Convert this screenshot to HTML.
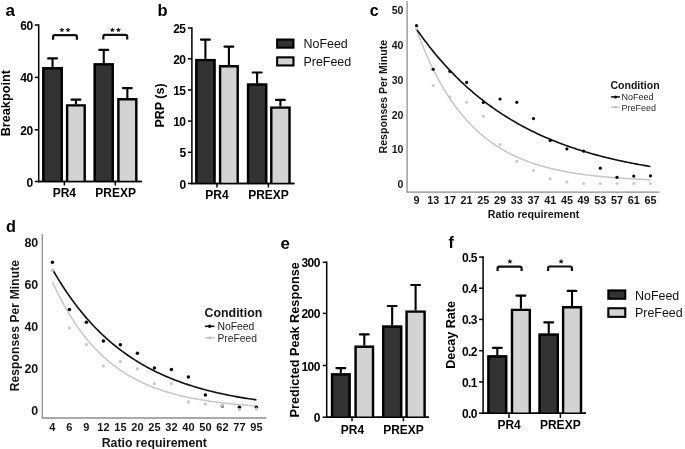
<!DOCTYPE html>
<html><head><meta charset="utf-8"><style>
html,body{margin:0;padding:0;background:#fff;}
svg{display:block;font-family:"Liberation Sans", sans-serif;will-change:transform;filter:blur(0.3px);}
</style></head><body>
<svg width="685" height="449" viewBox="0 0 685 449">
<rect width="685" height="449" fill="#fff"/>
<text x="5.5" y="16" font-size="17" font-weight="bold" text-anchor="start" fill="#000" >a</text>
<line x1="38.7" y1="24.25" x2="38.7" y2="182.25" stroke="#000" stroke-width="1.5" stroke-linecap="butt"/>
<line x1="34.7" y1="25" x2="38.7" y2="25" stroke="#000" stroke-width="1.5" stroke-linecap="butt"/>
<text x="32.6" y="30.04" font-size="12" font-weight="bold" text-anchor="end" fill="#000" letter-spacing="-0.55" >60</text>
<line x1="34.7" y1="77.4" x2="38.7" y2="77.4" stroke="#000" stroke-width="1.5" stroke-linecap="butt"/>
<text x="32.6" y="82.44000000000001" font-size="12" font-weight="bold" text-anchor="end" fill="#000" letter-spacing="-0.55" >40</text>
<line x1="34.7" y1="129.8" x2="38.7" y2="129.8" stroke="#000" stroke-width="1.5" stroke-linecap="butt"/>
<text x="32.6" y="134.84" font-size="12" font-weight="bold" text-anchor="end" fill="#000" letter-spacing="-0.55" >20</text>
<line x1="34.7" y1="181.5" x2="38.7" y2="181.5" stroke="#000" stroke-width="1.5" stroke-linecap="butt"/>
<text x="32.6" y="186.54" font-size="12" font-weight="bold" text-anchor="end" fill="#000" letter-spacing="-0.55" >0</text>
<line x1="38" y1="181.4" x2="141.8" y2="181.4" stroke="#000" stroke-width="1.5" stroke-linecap="butt"/>
<line x1="64.4" y1="181.4" x2="64.4" y2="185.5" stroke="#000" stroke-width="1.5" stroke-linecap="butt"/>
<line x1="115.3" y1="181.4" x2="115.3" y2="185.5" stroke="#000" stroke-width="1.5" stroke-linecap="butt"/>
<rect x="42.2" y="67" width="20.70" height="114.40" fill="#333333"/>
<path d="M43.40,181.4 V68.20 H61.70 V181.4" fill="none" stroke="#000" stroke-width="2.4" stroke-linejoin="miter"/>
<line x1="52.55" y1="67" x2="52.55" y2="58.4" stroke="#000" stroke-width="2.1" stroke-linecap="butt"/>
<line x1="48.15" y1="58.4" x2="56.949999999999996" y2="58.4" stroke="#000" stroke-width="2.2" stroke-linecap="round"/>
<rect x="65.9" y="104.2" width="20.00" height="77.20" fill="#d3d3d3"/>
<path d="M67.10,181.4 V105.40 H84.70 V181.4" fill="none" stroke="#000" stroke-width="2.4" stroke-linejoin="miter"/>
<line x1="75.9" y1="104.2" x2="75.9" y2="99.7" stroke="#000" stroke-width="2.1" stroke-linecap="butt"/>
<line x1="71.5" y1="99.7" x2="80.30000000000001" y2="99.7" stroke="#000" stroke-width="2.2" stroke-linecap="round"/>
<rect x="93.6" y="63.2" width="20.30" height="118.20" fill="#333333"/>
<path d="M94.80,181.4 V64.40 H112.70 V181.4" fill="none" stroke="#000" stroke-width="2.4" stroke-linejoin="miter"/>
<line x1="103.75" y1="63.2" x2="103.75" y2="49.9" stroke="#000" stroke-width="2.1" stroke-linecap="butt"/>
<line x1="99.35" y1="49.9" x2="108.15" y2="49.9" stroke="#000" stroke-width="2.2" stroke-linecap="round"/>
<rect x="117.2" y="98" width="20.30" height="83.40" fill="#d3d3d3"/>
<path d="M118.40,181.4 V99.20 H136.30 V181.4" fill="none" stroke="#000" stroke-width="2.4" stroke-linejoin="miter"/>
<line x1="127.35" y1="98" x2="127.35" y2="88.1" stroke="#000" stroke-width="2.1" stroke-linecap="butt"/>
<line x1="122.94999999999999" y1="88.1" x2="131.75" y2="88.1" stroke="#000" stroke-width="2.2" stroke-linecap="round"/>
<line x1="38" y1="181.4" x2="141.8" y2="181.4" stroke="#000" stroke-width="1.5" stroke-linecap="butt"/>
<path d="M53.1,39.8 V36.7 Q53.1,35.1 54.7,35.1 H75.30000000000001 Q76.9,35.1 76.9,36.7 V39.8" fill="none" stroke="#111" stroke-width="2.2"/>
<polygon points="61.90,27.15 62.63,28.89 64.52,29.05 63.09,30.29 63.52,32.12 61.90,31.15 60.28,32.12 60.71,30.29 59.28,29.05 61.17,28.89" fill="#1a1a1a"/>
<polygon points="68.00,27.15 68.73,28.89 70.62,29.05 69.19,30.29 69.62,32.12 68.00,31.15 66.38,32.12 66.81,30.29 65.38,29.05 67.27,28.89" fill="#1a1a1a"/>
<path d="M103.3,39.5 V36.5 Q103.3,34.9 104.89999999999999,34.9 H125.60000000000002 Q127.20000000000002,34.9 127.20000000000002,36.5 V39.5" fill="none" stroke="#111" stroke-width="2.2"/>
<polygon points="112.40,27.15 113.13,28.89 115.02,29.05 113.59,30.29 114.02,32.12 112.40,31.15 110.78,32.12 111.21,30.29 109.78,29.05 111.67,28.89" fill="#1a1a1a"/>
<polygon points="118.40,27.15 119.13,28.89 121.02,29.05 119.59,30.29 120.02,32.12 118.40,31.15 116.78,32.12 117.21,30.29 115.78,29.05 117.67,28.89" fill="#1a1a1a"/>
<text x="64.3" y="197.2" font-size="12" font-weight="bold" text-anchor="middle" fill="#000" >PR4</text>
<text x="115.6" y="197.2" font-size="12" font-weight="bold" text-anchor="middle" fill="#000" >PREXP</text>
<text x="10.0" y="103.2" font-size="12.7" font-weight="bold" text-anchor="middle" fill="#000" transform="rotate(-90 10.0 103.2)" >Breakpoint</text>
<text x="157.6" y="16" font-size="16.5" font-weight="bold" text-anchor="start" fill="#000" >b</text>
<line x1="191.9" y1="27.25" x2="191.9" y2="184.25" stroke="#000" stroke-width="1.5" stroke-linecap="butt"/>
<line x1="187.9" y1="28" x2="191.9" y2="28" stroke="#000" stroke-width="1.5" stroke-linecap="butt"/>
<text x="185.5" y="33.04" font-size="12" font-weight="bold" text-anchor="end" fill="#000" letter-spacing="-0.55" >25</text>
<line x1="187.9" y1="58.8" x2="191.9" y2="58.8" stroke="#000" stroke-width="1.5" stroke-linecap="butt"/>
<text x="185.5" y="63.839999999999996" font-size="12" font-weight="bold" text-anchor="end" fill="#000" letter-spacing="-0.55" >20</text>
<line x1="187.9" y1="90" x2="191.9" y2="90" stroke="#000" stroke-width="1.5" stroke-linecap="butt"/>
<text x="185.5" y="95.04" font-size="12" font-weight="bold" text-anchor="end" fill="#000" letter-spacing="-0.55" >15</text>
<line x1="187.9" y1="121.1" x2="191.9" y2="121.1" stroke="#000" stroke-width="1.5" stroke-linecap="butt"/>
<text x="185.5" y="126.14" font-size="12" font-weight="bold" text-anchor="end" fill="#000" letter-spacing="-0.55" >10</text>
<line x1="187.9" y1="152.3" x2="191.9" y2="152.3" stroke="#000" stroke-width="1.5" stroke-linecap="butt"/>
<text x="185.5" y="157.34" font-size="12" font-weight="bold" text-anchor="end" fill="#000" letter-spacing="-0.55" >5</text>
<line x1="187.9" y1="183.5" x2="191.9" y2="183.5" stroke="#000" stroke-width="1.5" stroke-linecap="butt"/>
<text x="185.5" y="188.54" font-size="12" font-weight="bold" text-anchor="end" fill="#000" letter-spacing="-0.55" >0</text>
<line x1="191.2" y1="183.5" x2="294.4" y2="183.5" stroke="#000" stroke-width="1.5" stroke-linecap="butt"/>
<line x1="217" y1="183.5" x2="217" y2="187.5" stroke="#000" stroke-width="1.5" stroke-linecap="butt"/>
<line x1="268.4" y1="183.5" x2="268.4" y2="187.5" stroke="#000" stroke-width="1.5" stroke-linecap="butt"/>
<rect x="195.2" y="58.9" width="20.40" height="124.60" fill="#333333"/>
<path d="M196.40,183.5 V60.10 H214.40 V183.5" fill="none" stroke="#000" stroke-width="2.4" stroke-linejoin="miter"/>
<line x1="205.39999999999998" y1="58.9" x2="205.39999999999998" y2="39.7" stroke="#000" stroke-width="2.1" stroke-linecap="butt"/>
<line x1="200.99999999999997" y1="39.7" x2="209.79999999999998" y2="39.7" stroke="#000" stroke-width="2.2" stroke-linecap="round"/>
<rect x="218.9" y="65.1" width="20.00" height="118.40" fill="#d3d3d3"/>
<path d="M220.10,183.5 V66.30 H237.70 V183.5" fill="none" stroke="#000" stroke-width="2.4" stroke-linejoin="miter"/>
<line x1="228.9" y1="65.1" x2="228.9" y2="46.7" stroke="#000" stroke-width="2.1" stroke-linecap="butt"/>
<line x1="224.5" y1="46.7" x2="233.3" y2="46.7" stroke="#000" stroke-width="2.2" stroke-linecap="round"/>
<rect x="246.9" y="83.4" width="20.40" height="100.10" fill="#333333"/>
<path d="M248.10,183.5 V84.60 H266.10 V183.5" fill="none" stroke="#000" stroke-width="2.4" stroke-linejoin="miter"/>
<line x1="257.1" y1="83.4" x2="257.1" y2="72.5" stroke="#000" stroke-width="2.1" stroke-linecap="butt"/>
<line x1="252.70000000000002" y1="72.5" x2="261.5" y2="72.5" stroke="#000" stroke-width="2.2" stroke-linecap="round"/>
<rect x="270.1" y="106.4" width="20.60" height="77.10" fill="#d3d3d3"/>
<path d="M271.30,183.5 V107.60 H289.50 V183.5" fill="none" stroke="#000" stroke-width="2.4" stroke-linejoin="miter"/>
<line x1="280.4" y1="106.4" x2="280.4" y2="99.9" stroke="#000" stroke-width="2.1" stroke-linecap="butt"/>
<line x1="276.0" y1="99.9" x2="284.79999999999995" y2="99.9" stroke="#000" stroke-width="2.2" stroke-linecap="round"/>
<line x1="191.2" y1="183.5" x2="294.4" y2="183.5" stroke="#000" stroke-width="1.5" stroke-linecap="butt"/>
<text x="217" y="199.4" font-size="12" font-weight="bold" text-anchor="middle" fill="#000" >PR4</text>
<text x="268.5" y="199.4" font-size="12" font-weight="bold" text-anchor="middle" fill="#000" >PREXP</text>
<text x="163.9" y="105.5" font-size="12.5" font-weight="bold" text-anchor="middle" fill="#000" transform="rotate(-90 163.9 105.5)" >PRP (s)</text>
<rect x="277.15000000000003" y="39.55" width="16.30" height="8.10" fill="#333333" stroke="#000" stroke-width="2.1"/>
<rect x="277.15000000000003" y="57.349999999999994" width="16.30" height="8.10" fill="#d3d3d3" stroke="#000" stroke-width="2.1"/>
<text x="303.5" y="48.3" font-size="12.45" font-weight="normal" text-anchor="start" fill="#111" >NoFeed</text>
<text x="303.5" y="66.0" font-size="12.45" font-weight="normal" text-anchor="start" fill="#111" >PreFeed</text>
<text x="369.8" y="16" font-size="16" font-weight="bold" text-anchor="start" fill="#000" >c</text>
<line x1="407.1" y1="1" x2="407.1" y2="192.2" stroke="#8e8e8e" stroke-width="1.3" stroke-linecap="butt"/>
<line x1="406.45000000000005" y1="192.2" x2="659.4" y2="192.2" stroke="#8e8e8e" stroke-width="1.3" stroke-linecap="butt"/>
<text x="403.4" y="14.479999999999999" font-size="10.5" font-weight="bold" text-anchor="end" fill="#151515" >50</text>
<text x="403.4" y="49.18" font-size="10.5" font-weight="bold" text-anchor="end" fill="#151515" >40</text>
<text x="403.4" y="83.88" font-size="10.5" font-weight="bold" text-anchor="end" fill="#151515" >30</text>
<text x="403.4" y="118.58" font-size="10.5" font-weight="bold" text-anchor="end" fill="#151515" >20</text>
<text x="403.4" y="153.28" font-size="10.5" font-weight="bold" text-anchor="end" fill="#151515" >10</text>
<text x="403.4" y="187.98" font-size="10.5" font-weight="bold" text-anchor="end" fill="#151515" >0</text>
<text x="416.5" y="203.8" font-size="10.8" font-weight="bold" text-anchor="middle" fill="#151515" >9</text>
<text x="433.21" y="203.8" font-size="10.8" font-weight="bold" text-anchor="middle" fill="#151515" >13</text>
<text x="449.92" y="203.8" font-size="10.8" font-weight="bold" text-anchor="middle" fill="#151515" >17</text>
<text x="466.63" y="203.8" font-size="10.8" font-weight="bold" text-anchor="middle" fill="#151515" >21</text>
<text x="483.34000000000003" y="203.8" font-size="10.8" font-weight="bold" text-anchor="middle" fill="#151515" >25</text>
<text x="500.05" y="203.8" font-size="10.8" font-weight="bold" text-anchor="middle" fill="#151515" >29</text>
<text x="516.76" y="203.8" font-size="10.8" font-weight="bold" text-anchor="middle" fill="#151515" >33</text>
<text x="533.47" y="203.8" font-size="10.8" font-weight="bold" text-anchor="middle" fill="#151515" >37</text>
<text x="550.1800000000001" y="203.8" font-size="10.8" font-weight="bold" text-anchor="middle" fill="#151515" >41</text>
<text x="566.89" y="203.8" font-size="10.8" font-weight="bold" text-anchor="middle" fill="#151515" >45</text>
<text x="583.6" y="203.8" font-size="10.8" font-weight="bold" text-anchor="middle" fill="#151515" >49</text>
<text x="600.31" y="203.8" font-size="10.8" font-weight="bold" text-anchor="middle" fill="#151515" >53</text>
<text x="617.02" y="203.8" font-size="10.8" font-weight="bold" text-anchor="middle" fill="#151515" >57</text>
<text x="633.73" y="203.8" font-size="10.8" font-weight="bold" text-anchor="middle" fill="#151515" >61</text>
<text x="650.44" y="203.8" font-size="10.8" font-weight="bold" text-anchor="middle" fill="#151515" >65</text>
<polyline points="416.50,29.86 418.17,34.36 419.84,38.72 421.51,42.96 423.18,47.07 424.86,51.06 426.53,54.93 428.20,58.69 429.87,62.34 431.54,65.87 433.21,69.31 434.88,72.64 436.55,75.87 438.22,79.01 439.89,82.06 441.56,85.01 443.24,87.88 444.91,90.66 446.58,93.36 448.25,95.99 449.92,98.53 451.59,101.00 453.26,103.39 454.93,105.72 456.60,107.97 458.28,110.16 459.95,112.29 461.62,114.35 463.29,116.35 464.96,118.29 466.63,120.18 468.30,122.01 469.97,123.78 471.64,125.50 473.31,127.18 474.99,128.80 476.66,130.37 478.33,131.90 480.00,133.38 481.67,134.82 483.34,136.22 485.01,137.57 486.68,138.89 488.35,140.16 490.02,141.40 491.70,142.60 493.37,143.77 495.04,144.90 496.71,146.00 498.38,147.06 500.05,148.10 501.72,149.10 503.39,150.07 505.06,151.02 506.73,151.94 508.41,152.83 510.08,153.69 511.75,154.53 513.42,155.34 515.09,156.13 516.76,156.90 518.43,157.64 520.10,158.36 521.77,159.06 523.44,159.74 525.12,160.40 526.79,161.04 528.46,161.66 530.13,162.27 531.80,162.85 533.47,163.42 535.14,163.97 536.81,164.50 538.48,165.02 540.15,165.53 541.83,166.01 543.50,166.49 545.17,166.95 546.84,167.40 548.51,167.83 550.18,168.25 551.85,168.66 553.52,169.05 555.19,169.44 556.86,169.81 558.54,170.17 560.21,170.52 561.88,170.86 563.55,171.19 565.22,171.52 566.89,171.83 568.56,172.13 570.23,172.42 571.90,172.71 573.57,172.98 575.25,173.25 576.92,173.51 578.59,173.76 580.26,174.01 581.93,174.25 583.60,174.48 585.27,174.70 586.94,174.92 588.61,175.13 590.28,175.34 591.96,175.53 593.63,175.73 595.30,175.91 596.97,176.10 598.64,176.27 600.31,176.44 601.98,176.61 603.65,176.77 605.32,176.93 606.99,177.08 608.67,177.22 610.34,177.37 612.01,177.51 613.68,177.64 615.35,177.77 617.02,177.90 618.69,178.02 620.36,178.14 622.03,178.25 623.70,178.37 625.38,178.48 627.05,178.58 628.72,178.68 630.39,178.78 632.06,178.88 633.73,178.97 635.40,179.07 637.07,179.15 638.74,179.24 640.41,179.32 642.09,179.40 643.76,179.48 645.43,179.56 647.10,179.63 648.77,179.70 650.44,179.77" fill="none" stroke="#c6c6c6" stroke-width="1.5" stroke-linejoin="round"/>
<polyline points="416.50,29.09 418.17,31.48 419.84,33.83 421.51,36.14 423.18,38.42 424.86,40.66 426.53,42.87 428.20,45.04 429.87,47.18 431.54,49.29 433.21,51.36 434.88,53.41 436.55,55.42 438.22,57.40 439.89,59.35 441.56,61.27 443.24,63.16 444.91,65.02 446.58,66.85 448.25,68.66 449.92,70.44 451.59,72.19 453.26,73.91 454.93,75.60 456.60,77.27 458.28,78.92 459.95,80.54 461.62,82.13 463.29,83.70 464.96,85.25 466.63,86.77 468.30,88.27 469.97,89.74 471.64,91.20 473.31,92.63 474.99,94.04 476.66,95.42 478.33,96.79 480.00,98.13 481.67,99.46 483.34,100.76 485.01,102.04 486.68,103.31 488.35,104.55 490.02,105.78 491.70,106.98 493.37,108.17 495.04,109.34 496.71,110.49 498.38,111.62 500.05,112.74 501.72,113.84 503.39,114.92 505.06,115.99 506.73,117.04 508.41,118.07 510.08,119.09 511.75,120.09 513.42,121.07 515.09,122.05 516.76,123.00 518.43,123.94 520.10,124.87 521.77,125.78 523.44,126.68 525.12,127.56 526.79,128.44 528.46,129.29 530.13,130.14 531.80,130.97 533.47,131.79 535.14,132.59 536.81,133.39 538.48,134.17 540.15,134.94 541.83,135.70 543.50,136.44 545.17,137.18 546.84,137.90 548.51,138.61 550.18,139.31 551.85,140.00 553.52,140.68 555.19,141.35 556.86,142.01 558.54,142.66 560.21,143.30 561.88,143.93 563.55,144.55 565.22,145.16 566.89,145.76 568.56,146.35 570.23,146.93 571.90,147.51 573.57,148.07 575.25,148.63 576.92,149.17 578.59,149.71 580.26,150.24 581.93,150.76 583.60,151.28 585.27,151.78 586.94,152.28 588.61,152.77 590.28,153.26 591.96,153.73 593.63,154.20 595.30,154.66 596.97,155.12 598.64,155.57 600.31,156.01 601.98,156.44 603.65,156.87 605.32,157.29 606.99,157.70 608.67,158.11 610.34,158.51 612.01,158.90 613.68,159.29 615.35,159.68 617.02,160.05 618.69,160.43 620.36,160.79 622.03,161.15 623.70,161.51 625.38,161.85 627.05,162.20 628.72,162.54 630.39,162.87 632.06,163.20 633.73,163.52 635.40,163.84 637.07,164.15 638.74,164.46 640.41,164.76 642.09,165.06 643.76,165.36 645.43,165.65 647.10,165.93 648.77,166.21 650.44,166.49" fill="none" stroke="#141414" stroke-width="1.65" stroke-linejoin="round"/>
<circle cx="416.50" cy="25.7" r="1.6" fill="#000"/>
<circle cx="433.21" cy="69.3" r="1.6" fill="#000"/>
<circle cx="449.92" cy="71.3" r="1.6" fill="#000"/>
<circle cx="466.63" cy="82.4" r="1.6" fill="#000"/>
<circle cx="483.34" cy="102.5" r="1.6" fill="#000"/>
<circle cx="500.05" cy="99.0" r="1.6" fill="#000"/>
<circle cx="516.76" cy="102.3" r="1.6" fill="#000"/>
<circle cx="533.47" cy="118.6" r="1.6" fill="#000"/>
<circle cx="550.18" cy="140.5" r="1.6" fill="#000"/>
<circle cx="566.89" cy="148.9" r="1.6" fill="#000"/>
<circle cx="583.60" cy="151.1" r="1.6" fill="#000"/>
<circle cx="600.31" cy="168.2" r="1.6" fill="#000"/>
<circle cx="617.02" cy="177.3" r="1.6" fill="#000"/>
<circle cx="633.73" cy="176.1" r="1.6" fill="#000"/>
<circle cx="650.44" cy="175.8" r="1.6" fill="#000"/>
<circle cx="416.50" cy="28.7" r="1.5" fill="#c8c8c8"/>
<circle cx="433.21" cy="85.6" r="1.5" fill="#c8c8c8"/>
<circle cx="449.92" cy="97.0" r="1.5" fill="#c8c8c8"/>
<circle cx="466.63" cy="102.2" r="1.5" fill="#c8c8c8"/>
<circle cx="483.34" cy="116.3" r="1.5" fill="#c8c8c8"/>
<circle cx="500.05" cy="144.4" r="1.5" fill="#c8c8c8"/>
<circle cx="516.76" cy="161.2" r="1.5" fill="#c8c8c8"/>
<circle cx="533.47" cy="170.5" r="1.5" fill="#c8c8c8"/>
<circle cx="550.18" cy="178.8" r="1.5" fill="#c8c8c8"/>
<circle cx="566.89" cy="182" r="1.5" fill="#c8c8c8"/>
<circle cx="583.60" cy="183.6" r="1.5" fill="#c8c8c8"/>
<circle cx="600.31" cy="183.6" r="1.5" fill="#c8c8c8"/>
<circle cx="617.02" cy="183.6" r="1.5" fill="#c8c8c8"/>
<circle cx="633.73" cy="183.6" r="1.5" fill="#c8c8c8"/>
<circle cx="650.44" cy="183.6" r="1.5" fill="#c8c8c8"/>
<text x="533.5" y="218.1" font-size="10.7" font-weight="bold" text-anchor="middle" fill="#151515" >Ratio requirement</text>
<text x="386.6" y="96.65" font-size="10.6" font-weight="bold" text-anchor="middle" fill="#151515" transform="rotate(-90 386.6 96.65)" >Responses Per Minute</text>
<text x="610.4" y="89.1" font-size="10.55" font-weight="bold" text-anchor="start" fill="#151515" >Condition</text>
<line x1="611" y1="96.9" x2="620" y2="96.9" stroke="#111" stroke-width="1.5" stroke-linecap="butt"/>
<circle cx="615.5" cy="96.9" r="1.5" fill="#000"/>
<line x1="611" y1="107.2" x2="620" y2="107.2" stroke="#c8c8c8" stroke-width="1.5" stroke-linecap="butt"/>
<circle cx="615.5" cy="107.2" r="1.4" fill="#c4c4c4"/>
<text x="621.4" y="100.4" font-size="9" font-weight="normal" text-anchor="start" fill="#222" >NoFeed</text>
<text x="621.4" y="110.7" font-size="9" font-weight="normal" text-anchor="start" fill="#2a2a2a" >PreFeed</text>
<text x="6" y="232" font-size="16.2" font-weight="bold" text-anchor="start" fill="#000" >d</text>
<line x1="42.3" y1="234" x2="42.3" y2="418" stroke="#8e8e8e" stroke-width="1.3" stroke-linecap="butt"/>
<line x1="41.65" y1="418" x2="266.3" y2="418" stroke="#8e8e8e" stroke-width="1.3" stroke-linecap="butt"/>
<text x="38.2" y="246.814" font-size="12.4" font-weight="bold" text-anchor="end" fill="#151515" >80</text>
<text x="38.2" y="288.864" font-size="12.4" font-weight="bold" text-anchor="end" fill="#151515" >60</text>
<text x="38.2" y="330.914" font-size="12.4" font-weight="bold" text-anchor="end" fill="#151515" >40</text>
<text x="38.2" y="372.964" font-size="12.4" font-weight="bold" text-anchor="end" fill="#151515" >20</text>
<text x="38.2" y="415.014" font-size="12.4" font-weight="bold" text-anchor="end" fill="#151515" >0</text>
<text x="52.4" y="430.5" font-size="11.0" font-weight="bold" text-anchor="middle" fill="#151515" >4</text>
<text x="69.4" y="430.5" font-size="11.0" font-weight="bold" text-anchor="middle" fill="#151515" >6</text>
<text x="86.4" y="430.5" font-size="11.0" font-weight="bold" text-anchor="middle" fill="#151515" >9</text>
<text x="103.4" y="430.5" font-size="11.0" font-weight="bold" text-anchor="middle" fill="#151515" >12</text>
<text x="120.4" y="430.5" font-size="11.0" font-weight="bold" text-anchor="middle" fill="#151515" >15</text>
<text x="137.4" y="430.5" font-size="11.0" font-weight="bold" text-anchor="middle" fill="#151515" >20</text>
<text x="154.4" y="430.5" font-size="11.0" font-weight="bold" text-anchor="middle" fill="#151515" >25</text>
<text x="171.4" y="430.5" font-size="11.0" font-weight="bold" text-anchor="middle" fill="#151515" >32</text>
<text x="188.4" y="430.5" font-size="11.0" font-weight="bold" text-anchor="middle" fill="#151515" >40</text>
<text x="205.4" y="430.5" font-size="11.0" font-weight="bold" text-anchor="middle" fill="#151515" >50</text>
<text x="222.4" y="430.5" font-size="11.0" font-weight="bold" text-anchor="middle" fill="#151515" >62</text>
<text x="239.4" y="430.5" font-size="11.0" font-weight="bold" text-anchor="middle" fill="#151515" >77</text>
<text x="256.4" y="430.5" font-size="11.0" font-weight="bold" text-anchor="middle" fill="#151515" >95</text>
<polyline points="52.40,281.75 53.86,284.93 55.31,288.03 56.77,291.06 58.23,294.01 59.69,296.89 61.14,299.70 62.60,302.43 64.06,305.10 65.51,307.70 66.97,310.24 68.43,312.71 69.89,315.12 71.34,317.48 72.80,319.77 74.26,322.01 75.71,324.19 77.17,326.32 78.63,328.39 80.09,330.41 81.54,332.38 83.00,334.31 84.46,336.18 85.91,338.01 87.37,339.79 88.83,341.53 90.29,343.23 91.74,344.88 93.20,346.49 94.66,348.06 96.11,349.60 97.57,351.09 99.03,352.55 100.49,353.97 101.94,355.35 103.40,356.71 104.86,358.02 106.31,359.31 107.77,360.56 109.23,361.78 110.69,362.97 112.14,364.14 113.60,365.27 115.06,366.37 116.51,367.45 117.97,368.50 119.43,369.52 120.89,370.52 122.34,371.50 123.80,372.45 125.26,373.37 126.71,374.27 128.17,375.16 129.63,376.01 131.09,376.85 132.54,377.67 134.00,378.46 135.46,379.24 136.91,380.00 138.37,380.73 139.83,381.45 141.29,382.16 142.74,382.84 144.20,383.51 145.66,384.16 147.11,384.79 148.57,385.41 150.03,386.01 151.49,386.60 152.94,387.18 154.40,387.74 155.86,388.28 157.31,388.81 158.77,389.33 160.23,389.84 161.69,390.33 163.14,390.81 164.60,391.28 166.06,391.74 167.51,392.18 168.97,392.62 170.43,393.04 171.89,393.45 173.34,393.86 174.80,394.25 176.26,394.63 177.71,395.01 179.17,395.37 180.63,395.73 182.09,396.07 183.54,396.41 185.00,396.74 186.46,397.06 187.91,397.38 189.37,397.68 190.83,397.98 192.29,398.27 193.74,398.55 195.20,398.83 196.66,399.10 198.11,399.36 199.57,399.62 201.03,399.87 202.49,400.11 203.94,400.35 205.40,400.58 206.86,400.81 208.31,401.03 209.77,401.24 211.23,401.45 212.69,401.65 214.14,401.85 215.60,402.05 217.06,402.24 218.51,402.42 219.97,402.60 221.43,402.78 222.89,402.95 224.34,403.11 225.80,403.28 227.26,403.44 228.71,403.59 230.17,403.74 231.63,403.89 233.09,404.03 234.54,404.17 236.00,404.31 237.46,404.44 238.91,404.57 240.37,404.70 241.83,404.82 243.29,404.94 244.74,405.06 246.20,405.17 247.66,405.28 249.11,405.39 250.57,405.50 252.03,405.60 253.49,405.70 254.94,405.80 256.40,405.90" fill="none" stroke="#c6c6c6" stroke-width="1.5" stroke-linejoin="round"/>
<polyline points="52.40,269.20 53.86,271.73 55.31,274.22 56.77,276.67 58.23,279.07 59.69,281.42 61.14,283.74 62.60,286.01 64.06,288.25 65.51,290.44 66.97,292.60 68.43,294.71 69.89,296.79 71.34,298.83 72.80,300.84 74.26,302.81 75.71,304.74 77.17,306.64 78.63,308.51 80.09,310.34 81.54,312.14 83.00,313.91 84.46,315.65 85.91,317.35 87.37,319.03 88.83,320.67 90.29,322.29 91.74,323.88 93.20,325.44 94.66,326.97 96.11,328.47 97.57,329.95 99.03,331.40 100.49,332.82 101.94,334.22 103.40,335.60 104.86,336.95 106.31,338.27 107.77,339.57 109.23,340.85 110.69,342.11 112.14,343.34 113.60,344.56 115.06,345.75 116.51,346.91 117.97,348.06 119.43,349.19 120.89,350.30 122.34,351.39 123.80,352.45 125.26,353.50 126.71,354.53 128.17,355.55 129.63,356.54 131.09,357.52 132.54,358.48 134.00,359.42 135.46,360.34 136.91,361.25 138.37,362.14 139.83,363.02 141.29,363.88 142.74,364.73 144.20,365.56 145.66,366.37 147.11,367.17 148.57,367.96 150.03,368.73 151.49,369.49 152.94,370.24 154.40,370.97 155.86,371.69 157.31,372.40 158.77,373.09 160.23,373.77 161.69,374.44 163.14,375.10 164.60,375.74 166.06,376.38 167.51,377.00 168.97,377.61 170.43,378.21 171.89,378.80 173.34,379.38 174.80,379.95 176.26,380.51 177.71,381.06 179.17,381.60 180.63,382.13 182.09,382.65 183.54,383.16 185.00,383.66 186.46,384.15 187.91,384.64 189.37,385.11 190.83,385.58 192.29,386.04 193.74,386.49 195.20,386.93 196.66,387.37 198.11,387.79 199.57,388.21 201.03,388.62 202.49,389.03 203.94,389.43 205.40,389.82 206.86,390.20 208.31,390.58 209.77,390.94 211.23,391.31 212.69,391.66 214.14,392.01 215.60,392.36 217.06,392.70 218.51,393.03 219.97,393.35 221.43,393.67 222.89,393.99 224.34,394.30 225.80,394.60 227.26,394.90 228.71,395.19 230.17,395.48 231.63,395.76 233.09,396.04 234.54,396.31 236.00,396.58 237.46,396.84 238.91,397.10 240.37,397.35 241.83,397.60 243.29,397.84 244.74,398.08 246.20,398.32 247.66,398.55 249.11,398.78 250.57,399.00 252.03,399.22 253.49,399.44 254.94,399.65 256.40,399.86" fill="none" stroke="#141414" stroke-width="1.65" stroke-linejoin="round"/>
<circle cx="52.40" cy="262.2" r="1.75" fill="#000"/>
<circle cx="69.40" cy="309.6" r="1.75" fill="#000"/>
<circle cx="86.40" cy="322.2" r="1.75" fill="#000"/>
<circle cx="103.40" cy="341.0" r="1.75" fill="#000"/>
<circle cx="120.40" cy="344.8" r="1.75" fill="#000"/>
<circle cx="137.40" cy="353.2" r="1.75" fill="#000"/>
<circle cx="154.40" cy="368.1" r="1.75" fill="#000"/>
<circle cx="171.40" cy="369.5" r="1.75" fill="#000"/>
<circle cx="188.40" cy="377.1" r="1.75" fill="#000"/>
<circle cx="205.40" cy="395.1" r="1.75" fill="#000"/>
<circle cx="222.40" cy="406.1" r="1.75" fill="#000"/>
<circle cx="239.40" cy="407.2" r="1.75" fill="#000"/>
<circle cx="256.40" cy="407.2" r="1.75" fill="#000"/>
<circle cx="52.40" cy="270.6" r="1.6" fill="#c8c8c8"/>
<circle cx="69.40" cy="327.8" r="1.6" fill="#c8c8c8"/>
<circle cx="86.40" cy="344.6" r="1.6" fill="#c8c8c8"/>
<circle cx="103.40" cy="366" r="1.6" fill="#c8c8c8"/>
<circle cx="120.40" cy="361.7" r="1.6" fill="#c8c8c8"/>
<circle cx="137.40" cy="368.9" r="1.6" fill="#c8c8c8"/>
<circle cx="154.40" cy="383.6" r="1.6" fill="#c8c8c8"/>
<circle cx="171.40" cy="383.6" r="1.6" fill="#c8c8c8"/>
<circle cx="188.40" cy="401.9" r="1.6" fill="#c8c8c8"/>
<circle cx="205.40" cy="404" r="1.6" fill="#c8c8c8"/>
<circle cx="222.40" cy="405.4" r="1.6" fill="#c8c8c8"/>
<circle cx="239.40" cy="409.6" r="1.6" fill="#c8c8c8"/>
<circle cx="256.40" cy="408.9" r="1.6" fill="#c8c8c8"/>
<text x="154.3" y="446.8" font-size="12.3" font-weight="bold" text-anchor="middle" fill="#151515" >Ratio requirement</text>
<text x="18.9" y="325.6" font-size="12" font-weight="bold" text-anchor="middle" fill="#151515" letter-spacing="0.14" transform="rotate(-90 18.9 325.6)" >Responses Per Minute</text>
<text x="204.5" y="317.3" font-size="12.4" font-weight="bold" text-anchor="start" fill="#151515" >Condition</text>
<line x1="205" y1="326.3" x2="214.5" y2="326.3" stroke="#111" stroke-width="1.6" stroke-linecap="butt"/>
<circle cx="209.7" cy="326.3" r="1.7" fill="#000"/>
<line x1="205" y1="337.8" x2="214.5" y2="337.8" stroke="#c8c8c8" stroke-width="1.6" stroke-linecap="butt"/>
<circle cx="209.7" cy="337.8" r="1.6" fill="#c4c4c4"/>
<text x="217.4" y="330.3" font-size="10.4" font-weight="normal" text-anchor="start" fill="#222" >NoFeed</text>
<text x="217.4" y="342.2" font-size="10.3" font-weight="normal" text-anchor="start" fill="#2a2a2a" >PreFeed</text>
<text x="280.4" y="248.6" font-size="16.8" font-weight="bold" text-anchor="start" fill="#000" >e</text>
<line x1="326.7" y1="261.55" x2="326.7" y2="417.95" stroke="#000" stroke-width="1.5" stroke-linecap="butt"/>
<line x1="322.7" y1="262.3" x2="326.7" y2="262.3" stroke="#000" stroke-width="1.5" stroke-linecap="butt"/>
<text x="319.8" y="267.34000000000003" font-size="12" font-weight="bold" text-anchor="end" fill="#000" letter-spacing="-0.55" >300</text>
<line x1="322.7" y1="313.4" x2="326.7" y2="313.4" stroke="#000" stroke-width="1.5" stroke-linecap="butt"/>
<text x="319.8" y="318.44" font-size="12" font-weight="bold" text-anchor="end" fill="#000" letter-spacing="-0.55" >200</text>
<line x1="322.7" y1="365.5" x2="326.7" y2="365.5" stroke="#000" stroke-width="1.5" stroke-linecap="butt"/>
<text x="319.8" y="370.54" font-size="12" font-weight="bold" text-anchor="end" fill="#000" letter-spacing="-0.55" >100</text>
<line x1="322.7" y1="417.2" x2="326.7" y2="417.2" stroke="#000" stroke-width="1.5" stroke-linecap="butt"/>
<text x="319.8" y="422.24" font-size="12" font-weight="bold" text-anchor="end" fill="#000" letter-spacing="-0.55" >0</text>
<line x1="326" y1="417.2" x2="429" y2="417.2" stroke="#000" stroke-width="1.5" stroke-linecap="butt"/>
<line x1="352" y1="417.2" x2="352" y2="421.3" stroke="#000" stroke-width="1.5" stroke-linecap="butt"/>
<line x1="403.4" y1="417.2" x2="403.4" y2="421.3" stroke="#000" stroke-width="1.5" stroke-linecap="butt"/>
<rect x="330.9" y="373.3" width="19.80" height="43.90" fill="#333333"/>
<path d="M332.10,417.2 V374.50 H349.50 V417.2" fill="none" stroke="#000" stroke-width="2.4" stroke-linejoin="miter"/>
<line x1="340.79999999999995" y1="373.3" x2="340.79999999999995" y2="368.1" stroke="#000" stroke-width="2.1" stroke-linecap="butt"/>
<line x1="336.4" y1="368.1" x2="345.19999999999993" y2="368.1" stroke="#000" stroke-width="2.2" stroke-linecap="round"/>
<rect x="354.4" y="345.6" width="19.80" height="71.60" fill="#d3d3d3"/>
<path d="M355.60,417.2 V346.80 H373.00 V417.2" fill="none" stroke="#000" stroke-width="2.4" stroke-linejoin="miter"/>
<line x1="364.29999999999995" y1="345.6" x2="364.29999999999995" y2="334.4" stroke="#000" stroke-width="2.1" stroke-linecap="butt"/>
<line x1="359.9" y1="334.4" x2="368.69999999999993" y2="334.4" stroke="#000" stroke-width="2.2" stroke-linecap="round"/>
<rect x="382" y="325.5" width="20.30" height="91.70" fill="#333333"/>
<path d="M383.20,417.2 V326.70 H401.10 V417.2" fill="none" stroke="#000" stroke-width="2.4" stroke-linejoin="miter"/>
<line x1="392.15" y1="325.5" x2="392.15" y2="306" stroke="#000" stroke-width="2.1" stroke-linecap="butt"/>
<line x1="387.75" y1="306" x2="396.54999999999995" y2="306" stroke="#000" stroke-width="2.2" stroke-linecap="round"/>
<rect x="405.4" y="310.4" width="20.40" height="106.80" fill="#d3d3d3"/>
<path d="M406.60,417.2 V311.60 H424.60 V417.2" fill="none" stroke="#000" stroke-width="2.4" stroke-linejoin="miter"/>
<line x1="415.6" y1="310.4" x2="415.6" y2="285" stroke="#000" stroke-width="2.1" stroke-linecap="butt"/>
<line x1="411.20000000000005" y1="285" x2="420.0" y2="285" stroke="#000" stroke-width="2.2" stroke-linecap="round"/>
<line x1="326" y1="417.2" x2="429" y2="417.2" stroke="#000" stroke-width="1.5" stroke-linecap="butt"/>
<text x="352.4" y="434.4" font-size="12" font-weight="bold" text-anchor="middle" fill="#000" >PR4</text>
<text x="403.5" y="434.4" font-size="12" font-weight="bold" text-anchor="middle" fill="#000" >PREXP</text>
<text x="298.6" y="339.8" font-size="12.7" font-weight="bold" text-anchor="middle" fill="#000" transform="rotate(-90 298.6 339.8)" >Predicted Peak Response</text>
<text x="448.5" y="247.8" font-size="16" font-weight="bold" text-anchor="start" fill="#000" >f</text>
<line x1="483.1" y1="256.35" x2="483.1" y2="413.95" stroke="#000" stroke-width="1.5" stroke-linecap="butt"/>
<line x1="479.1" y1="257.1" x2="483.1" y2="257.1" stroke="#000" stroke-width="1.5" stroke-linecap="butt"/>
<text x="477" y="262.14000000000004" font-size="12" font-weight="bold" text-anchor="end" fill="#000" letter-spacing="-0.55" >0.5</text>
<line x1="479.1" y1="288.2" x2="483.1" y2="288.2" stroke="#000" stroke-width="1.5" stroke-linecap="butt"/>
<text x="477" y="293.24" font-size="12" font-weight="bold" text-anchor="end" fill="#000" letter-spacing="-0.55" >0.4</text>
<line x1="479.1" y1="319.4" x2="483.1" y2="319.4" stroke="#000" stroke-width="1.5" stroke-linecap="butt"/>
<text x="477" y="324.44" font-size="12" font-weight="bold" text-anchor="end" fill="#000" letter-spacing="-0.55" >0.3</text>
<line x1="479.1" y1="350.7" x2="483.1" y2="350.7" stroke="#000" stroke-width="1.5" stroke-linecap="butt"/>
<text x="477" y="355.74" font-size="12" font-weight="bold" text-anchor="end" fill="#000" letter-spacing="-0.55" >0.2</text>
<line x1="479.1" y1="381.9" x2="483.1" y2="381.9" stroke="#000" stroke-width="1.5" stroke-linecap="butt"/>
<text x="477" y="386.94" font-size="12" font-weight="bold" text-anchor="end" fill="#000" letter-spacing="-0.55" >0.1</text>
<line x1="479.1" y1="413.2" x2="483.1" y2="413.2" stroke="#000" stroke-width="1.5" stroke-linecap="butt"/>
<text x="477" y="418.24" font-size="12" font-weight="bold" text-anchor="end" fill="#000" letter-spacing="-0.55" >0.0</text>
<line x1="482.4" y1="413.2" x2="586" y2="413.2" stroke="#000" stroke-width="1.5" stroke-linecap="butt"/>
<line x1="509" y1="413.2" x2="509" y2="418" stroke="#000" stroke-width="1.5" stroke-linecap="butt"/>
<line x1="560.4" y1="413.2" x2="560.4" y2="418" stroke="#000" stroke-width="1.5" stroke-linecap="butt"/>
<rect x="487.3" y="355.3" width="20.00" height="57.90" fill="#333333"/>
<path d="M488.50,413.2 V356.50 H506.10 V413.2" fill="none" stroke="#000" stroke-width="2.4" stroke-linejoin="miter"/>
<line x1="497.3" y1="355.3" x2="497.3" y2="347.8" stroke="#000" stroke-width="2.1" stroke-linecap="butt"/>
<line x1="492.90000000000003" y1="347.8" x2="501.7" y2="347.8" stroke="#000" stroke-width="2.2" stroke-linecap="round"/>
<rect x="510.8" y="308.7" width="20.20" height="104.50" fill="#d3d3d3"/>
<path d="M512.00,413.2 V309.90 H529.80 V413.2" fill="none" stroke="#000" stroke-width="2.4" stroke-linejoin="miter"/>
<line x1="520.9" y1="308.7" x2="520.9" y2="295.7" stroke="#000" stroke-width="2.1" stroke-linecap="butt"/>
<line x1="516.5" y1="295.7" x2="525.3" y2="295.7" stroke="#000" stroke-width="2.2" stroke-linecap="round"/>
<rect x="538.5" y="333.6" width="20.50" height="79.60" fill="#333333"/>
<path d="M539.70,413.2 V334.80 H557.80 V413.2" fill="none" stroke="#000" stroke-width="2.4" stroke-linejoin="miter"/>
<line x1="548.75" y1="333.6" x2="548.75" y2="322.4" stroke="#000" stroke-width="2.1" stroke-linecap="butt"/>
<line x1="544.35" y1="322.4" x2="553.15" y2="322.4" stroke="#000" stroke-width="2.2" stroke-linecap="round"/>
<rect x="561.9" y="306.1" width="20.30" height="107.10" fill="#d3d3d3"/>
<path d="M563.10,413.2 V307.30 H581.00 V413.2" fill="none" stroke="#000" stroke-width="2.4" stroke-linejoin="miter"/>
<line x1="572.05" y1="306.1" x2="572.05" y2="290.9" stroke="#000" stroke-width="2.1" stroke-linecap="butt"/>
<line x1="567.65" y1="290.9" x2="576.4499999999999" y2="290.9" stroke="#000" stroke-width="2.2" stroke-linecap="round"/>
<line x1="482.4" y1="413.2" x2="586" y2="413.2" stroke="#000" stroke-width="1.5" stroke-linecap="butt"/>
<path d="M497.6,271 V268.3 Q497.6,266.7 499.20000000000005,266.7 H520.0 Q521.6,266.7 521.6,268.3 V271" fill="none" stroke="#111" stroke-width="2.2"/>
<polygon points="509.90,258.75 510.63,260.49 512.52,260.65 511.09,261.89 511.52,263.72 509.90,262.75 508.28,263.72 508.71,261.89 507.28,260.65 509.17,260.49" fill="#1a1a1a"/>
<path d="M548.1,271 V268.1 Q548.1,266.5 549.7,266.5 H570.3 Q571.9,266.5 571.9,268.1 V271" fill="none" stroke="#111" stroke-width="2.2"/>
<polygon points="561.10,258.75 561.83,260.49 563.72,260.65 562.29,261.89 562.72,263.72 561.10,262.75 559.48,263.72 559.91,261.89 558.48,260.65 560.37,260.49" fill="#1a1a1a"/>
<text x="509.1" y="428.8" font-size="12" font-weight="bold" text-anchor="middle" fill="#000" >PR4</text>
<text x="560.3" y="428.8" font-size="12" font-weight="bold" text-anchor="middle" fill="#000" >PREXP</text>
<text x="455.2" y="334.9" font-size="12.6" font-weight="bold" text-anchor="middle" fill="#000" transform="rotate(-90 455.2 334.9)" >Decay Rate</text>
<rect x="608.3499999999999" y="290.45" width="16.90" height="8.30" fill="#333333" stroke="#000" stroke-width="2.1"/>
<rect x="608.3499999999999" y="308.25" width="16.90" height="8.60" fill="#d3d3d3" stroke="#000" stroke-width="2.1"/>
<text x="635" y="299.5" font-size="12.45" font-weight="normal" text-anchor="start" fill="#111" >NoFeed</text>
<text x="635" y="317.1" font-size="12.45" font-weight="normal" text-anchor="start" fill="#111" >PreFeed</text>
</svg></body></html>
